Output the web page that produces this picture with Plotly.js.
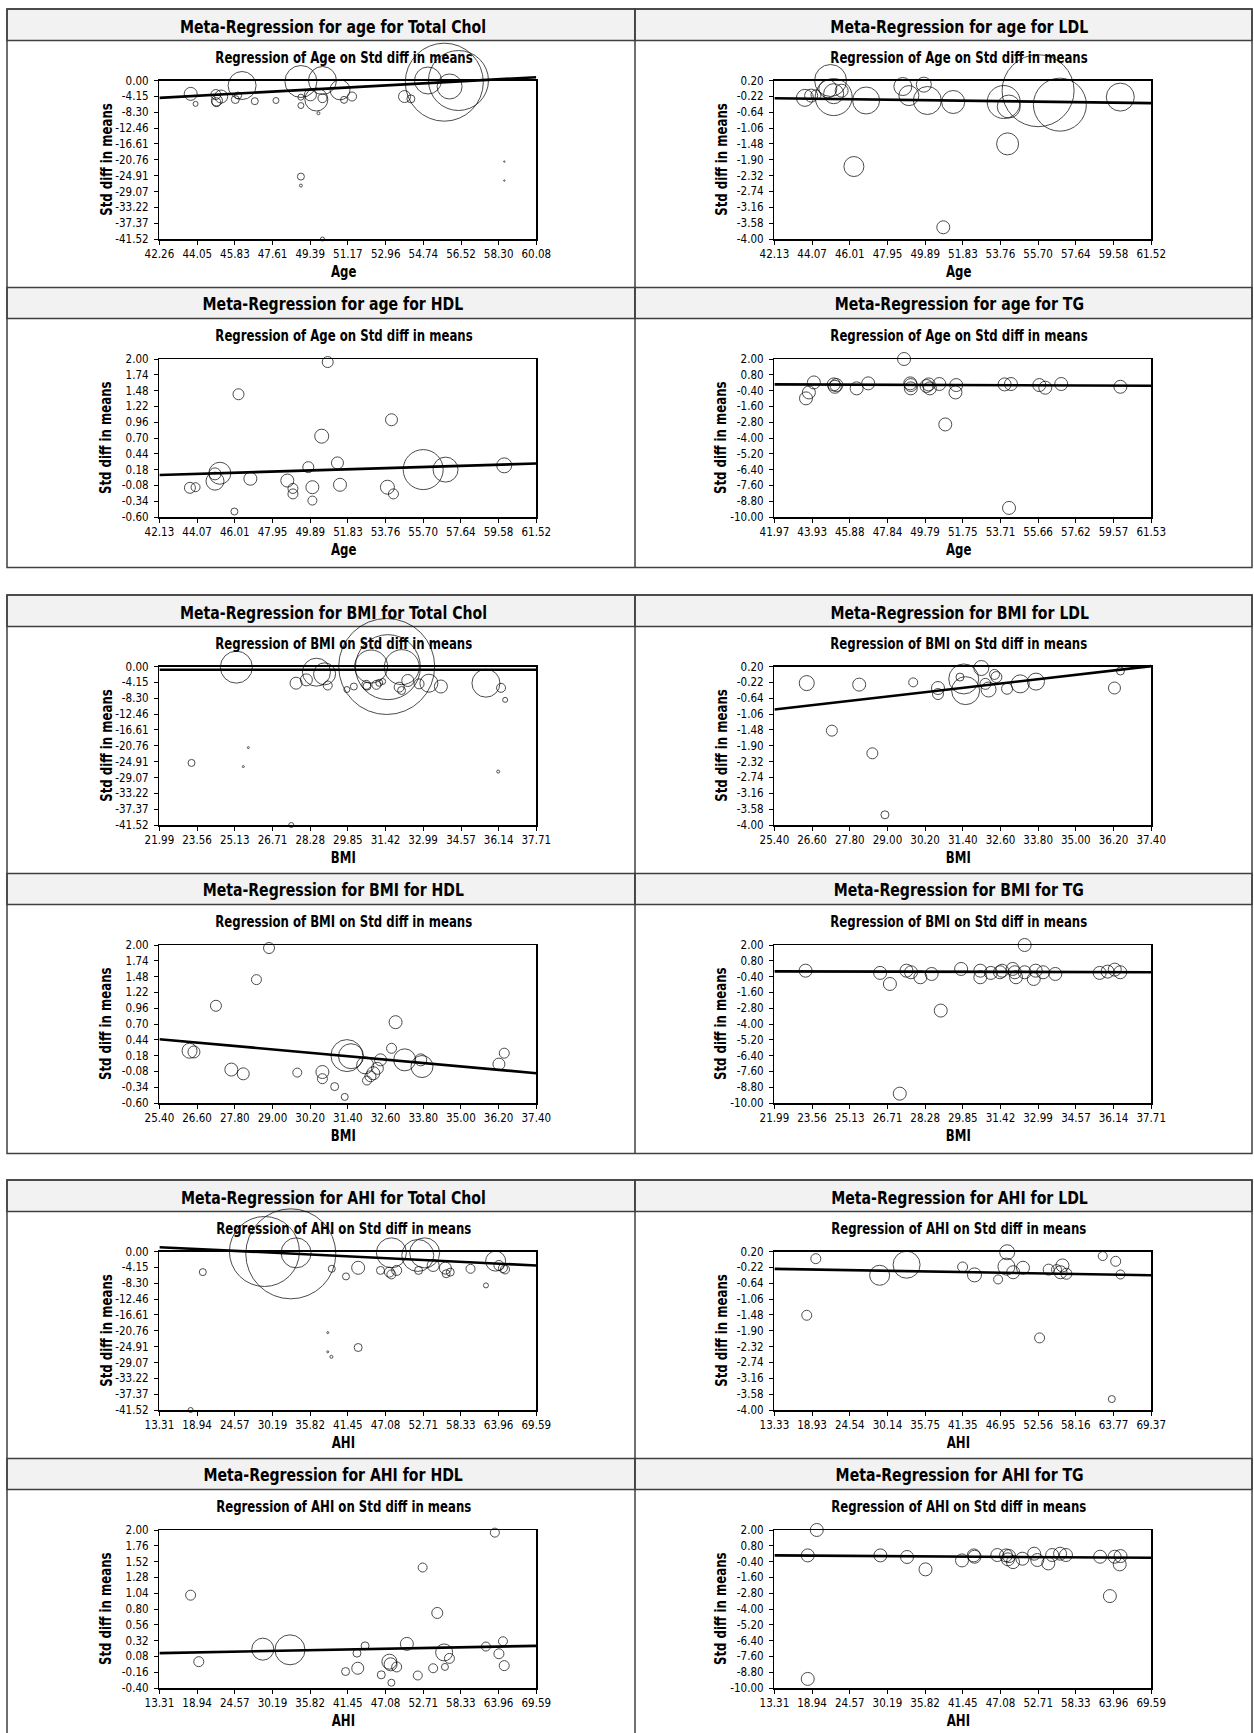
<!DOCTYPE html>
<html><head><meta charset="utf-8">
<script src="https://cdn.plot.ly/plotly-3.0.1.min.js"></script>
<style>
html,body{margin:0;padding:0;background:#fff;}
#chart{width:1254px;height:1733px;}
#chart text.annotation-text{transform-box:fill-box;transform-origin:center;transform:scaleX(0.87);}
</style>
</head><body><div id="chart"></div>
<script>
// ---------------- DATA ----------------
// tick labels
const ageTCxTicks = ['42.26','44.05','45.83','47.61','49.39','51.17','52.96','54.74','56.52','58.30','60.08'];
const ageLHxTicks = ['42.13','44.07','46.01','47.95','49.89','51.83','53.76','55.70','57.64','59.58','61.52'];
const ageTGxTicks = ['41.97','43.93','45.88','47.84','49.79','51.75','53.71','55.66','57.62','59.57','61.53'];
const bmiTxTicks  = ['21.99','23.56','25.13','26.71','28.28','29.85','31.42','32.99','34.57','36.14','37.71'];
const bmiLHxTicks = ['25.40','26.60','27.80','29.00','30.20','31.40','32.60','33.80','35.00','36.20','37.40'];
const ahixTicks   = ['13.31','18.94','24.57','30.19','35.82','41.45','47.08','52.71','58.33','63.96','69.59'];
const ahiLxTicks  = ['13.33','18.93','24.54','30.14','35.75','41.35','46.95','52.56','58.16','63.77','69.37'];
const tcYTicks  = ['0.00','-4.15','-8.30','-12.46','-16.61','-20.76','-24.91','-29.07','-33.22','-37.37','-41.52'];
const ldlYTicks = ['0.20','-0.22','-0.64','-1.06','-1.48','-1.90','-2.32','-2.74','-3.16','-3.58','-4.00'];
const hdlYTicks = ['2.00','1.74','1.48','1.22','0.96','0.70','0.44','0.18','-0.08','-0.34','-0.60'];
const hdlAhiYTicks = ['2.00','1.76','1.52','1.28','1.04','0.80','0.56','0.32','0.08','-0.16','-0.40'];
const tgYTicks  = ['2.00','0.80','-0.40','-1.60','-2.80','-4.00','-5.20','-6.40','-7.60','-8.80','-10.00'];

// Age - Total Chol
const ageTC_x = [43.74,43.97,44.93,44.98,44.95,45.18,45.85,45.98,46.17,46.77,47.77,48.95,48.95,48.95,48.95,48.95,49.78,49.68,49.97,49.97,49.97,50.80,50.99,51.37,53.85,54.15,54.96,55.73,55.98,56.40,58.57,58.57,49.40];
const ageTC_y = [-3.50,-6.12,-3.67,-5.24,-5.68,-4.20,-4.98,-3.93,-1.31,-5.42,-5.24,-0.26,-4.37,-6.56,-25.17,-27.53,-8.57,-4.98,0.00,-4.63,-41.52,-2.45,-5.07,-4.20,-4.20,-4.81,0.00,-0.44,-1.57,0.00,-21.24,-26.22,-3.76];
const ageTC_w = [16.9,2.5,10,12.1,8.1,16.9,6.4,4.9,78.4,4.9,3.6,102.4,3.6,3.6,4.9,0.9,0.9,52.9,78.4,8.1,1.6,40,4.9,8.1,14.4,6.4,72.9,608.4,62.5,360,0.2,0.2,14.4];
const ageTC_line = [-4.54, 0.87];

// Age - LDL
const ageLDL_x = [43.70,44.02,44.27,45.02,44.88,45.18,45.18,45.59,46.85,46.22,48.74,49.05,49.82,50.00,51.33,50.82,53.93,54.19,54.13,55.70,56.82,59.93];
const ageLDL_y = [-0.26,-0.20,-0.18,0.20,-0.02,-0.15,-0.24,-0.07,-0.33,-2.08,0.04,-0.20,0.09,-0.33,-0.37,-3.69,-0.37,-0.49,-1.48,-0.07,-0.44,-0.24];
const ageLDL_w = [28.9,16.9,10,102.4,32.4,40,136.9,16.9,72.9,40,32.4,40,22.5,78.4,52.9,16.9,108.9,52.9,48.4,518.4,280.9,78.4];
const ageLDL_line = [-0.27, -0.40];

// Age - HDL
const ageHDL_x = [43.70,43.99,44.99,45.24,44.99,46.20,45.99,46.81,48.71,49.00,49.00,49.79,50.00,50.00,50.48,50.79,51.29,51.42,53.86,54.17,54.07,55.70,56.85,59.87];
const ageHDL_y = [-0.12,-0.11,0.11,0.12,-0.01,1.42,-0.51,0.03,0.00,-0.13,-0.22,0.22,-0.11,-0.33,0.73,1.95,0.29,-0.07,-0.11,-0.22,1.00,0.18,0.18,0.25];
const ageHDL_w = [12.1,8.1,14.4,48.4,32.4,12.1,4.9,16.9,16.9,10,10,12.1,16.9,8.1,19.6,12.1,14.4,16.9,19.6,10,14.4,160,62.5,22.5];
const ageHDL_line = [0.09, 0.28];

// Age - TG
const ageTG_x = [48.70,43.61,43.76,44.02,45.05,45.11,45.19,46.24,46.84,49.02,49.05,49.05,49.98,50.04,49.87,50.53,50.84,51.41,51.37,53.92,54.25,54.15,55.72,56.03,56.86,59.93];
const ageTG_y = [2.00,-0.99,-0.54,0.22,0.07,-0.11,0.02,-0.23,0.15,0.15,-0.23,0.02,0.07,-0.23,-0.05,0.10,-2.97,0.02,-0.54,0.07,0.10,-9.31,0.02,-0.18,0.10,-0.11];
const ageTG_w = [16.9,16.9,16.9,16.9,16.9,16.9,16.9,16.9,16.9,16.9,16.9,16.9,16.9,16.9,16.9,16.9,16.9,16.9,16.9,16.9,16.9,16.9,16.9,16.9,16.9,16.9];
const ageTG_line = [0.07, -0.03];

// BMI - Total Chol
const bmiTC_x = [25.20,23.33,25.49,25.70,27.49,27.69,28.12,28.54,28.88,29.01,29.81,30.10,30.62,30.65,31.04,31.16,31.30,31.47,30.82,31.52,32.10,31.99,32.09,32.35,32.82,33.23,33.73,35.61,36.24,36.41,36.12];
const bmiTC_y = [-0.17,-25.26,-26.22,-21.24,-41.52,-4.37,-3.50,-1.49,-1.92,-4.98,-6.03,-5.24,-4.81,-5.16,-4.81,-4.28,-3.93,0.00,0.00,-0.17,-0.17,-5.42,-6.29,-3.67,-4.55,-4.37,-5.24,-4.37,-5.59,-8.74,-27.53];
const bmiTC_w = [102.4,4.9,0.4,0.4,2.5,14.4,14.4,78.4,48.4,8.1,3.6,4.9,8.1,6.4,8.1,4.9,3.6,921.6,108.9,422.5,122.5,10,6.4,14.4,10,32.4,16.9,78.4,8.1,2.5,0.9];
const bmiTC_line = [-0.87, -0.87];

// BMI - LDL
const bmiLDL_x = [26.43,28.10,29.82,27.23,28.52,28.92,30.61,30.61,31.31,31.43,31.49,31.99,32.12,32.22,32.41,32.47,32.81,33.23,33.73,36.23,36.42];
const bmiLDL_y = [-0.24,-0.28,-0.22,-1.50,-2.10,-3.73,-0.37,-0.53,-0.08,-0.13,-0.44,0.16,-0.26,-0.41,-0.01,-0.08,-0.39,-0.26,-0.20,-0.37,0.08];
const bmiLDL_w = [22.5,16.9,8.1,12.1,12.1,6.4,16.9,12.1,6.4,90,78.4,22.5,12.1,22.5,10,12.1,12.1,32.4,28.9,14.4,6.4];
const bmiLDL_line = [-0.94, 0.21];

// BMI - HDL
const bmiHDL_x = [28.89,28.49,27.20,26.36,26.50,27.69,28.07,29.79,30.59,30.59,30.98,31.30,31.37,31.50,31.95,32.01,32.12,32.21,32.34,32.44,32.79,32.92,33.21,33.72,33.76,36.21,36.38];
const bmiHDL_y = [1.95,1.43,1.00,0.26,0.24,-0.05,-0.12,-0.10,-0.09,-0.20,-0.33,-0.50,0.18,0.17,0.02,-0.23,-0.16,-0.11,-0.03,0.11,0.30,0.73,0.11,0.11,0.00,0.04,0.22];
const bmiHDL_w = [12.1,10,12.1,22.5,14.4,16.9,14.4,8.1,16.9,10,6.4,4.9,102.4,62.5,28.9,8.1,12.1,16.9,14.4,14.4,10,16.9,48.4,14.4,48.4,14.4,10];
const bmiHDL_line = [0.45, -0.11];

// BMI - TG
const bmiTG_x = [23.29,26.40,26.81,27.22,27.50,27.69,28.08,28.55,28.93,29.78,30.58,30.58,31.02,31.40,31.49,31.93,32.02,32.07,32.43,32.43,32.81,32.89,33.20,33.71,35.56,35.89,36.19,36.42];
const bmiTG_y = [0.05,-0.12,-0.96,-9.29,0.05,-0.07,-0.45,-0.20,-2.98,0.18,0.05,-0.45,-0.12,-0.07,0.05,0.18,-0.07,-0.45,2.00,-0.07,-0.58,0.05,-0.07,-0.20,-0.12,-0.02,0.13,-0.07];
const bmiTG_w = [16.9,16.9,16.9,16.9,16.9,16.9,16.9,16.9,16.9,16.9,16.9,16.9,16.9,16.9,16.9,16.9,16.9,16.9,16.9,16.9,16.9,16.9,16.9,16.9,16.9,16.9,16.9,16.9];
const bmiTG_line = [0.00, -0.07];

// AHI - Total Chol
const ahiTC_x = [17.97,19.79,28.99,32.93,33.72,38.45,38.45,38.99,39.05,41.17,42.99,42.99,46.32,47.65,47.95,48.74,47.95,52.01,51.89,52.92,54.19,56.01,56.13,56.74,59.77,62.07,63.52,64.01,64.61,64.92];
const ahiTC_y = [-41.52,-5.40,0.00,-0.61,-0.35,-21.24,-26.28,-27.59,-4.53,-6.53,-4.26,-25.15,-4.96,-5.40,-6.01,-4.96,-0.35,-4.96,-1.04,-0.35,-3.66,-4.35,-5.83,-5.40,-4.53,-8.88,-2.52,-3.66,-4.35,-4.70];
const ahiTC_w = [2.5,4.9,490,810,90,0.4,0.4,0.9,4.9,4.9,16.9,6.4,6.4,10,8.1,10,90,6.4,102.4,90,14.4,14.4,6.4,6.4,8.1,2.5,40,10,8.1,8.1];
const ahiTC_line = [1.13, -3.66];

// AHI - LDL
const ahiLDL_x = [18.14,19.49,28.98,32.99,41.32,43.09,46.60,47.95,47.84,48.84,50.30,52.77,54.12,55.29,56.17,55.88,56.76,62.16,64.09,64.80,63.51];
const ahiLDL_y = [-1.49,0.01,-0.43,-0.15,-0.21,-0.42,-0.54,0.18,-0.20,-0.35,-0.23,-2.09,-0.28,-0.28,-0.17,-0.35,-0.39,0.08,-0.06,-0.41,-3.71];
const ahiLDL_w = [10,10,40,72.9,10,19.6,8.1,22.5,28.9,16.9,16.9,10,12.1,10,16.9,16.9,12.1,8.1,10,8.1,4.9];
const ahiLDL_line = [-0.26, -0.43];

// AHI - HDL
const ahiHDL_x = [17.97,19.19,28.75,32.81,41.11,42.81,42.93,44.02,46.44,47.65,47.83,47.95,48.74,50.26,51.89,52.62,54.19,54.80,55.83,55.95,56.62,62.07,63.40,64.01,64.61,64.80];
const ahiHDL_y = [1.01,0.00,0.19,0.18,-0.15,0.13,-0.10,0.24,-0.20,0.00,-0.04,-0.32,-0.08,0.27,-0.21,1.43,-0.10,0.74,0.14,-0.08,0.05,0.23,1.96,0.12,0.31,-0.06];
const ahiHDL_w = [10,10,48.4,90,6.4,6.4,14.4,6.4,6.4,22.5,16.9,4.9,10,16.9,8.1,8.1,8.1,12.1,28.9,4.9,10,8.1,8.1,10,8.1,10];
const ahiHDL_line = [0.13, 0.24];

// AHI - TG
const ahiTG_x = [19.64,18.29,18.29,29.14,33.12,35.88,41.33,43.09,43.21,46.61,47.90,48.19,48.95,48.36,50.35,52.11,52.58,54.22,54.80,55.98,56.86,61.96,63.42,64.13,64.89,65.01];
const ahiTG_y = [2.00,0.07,-9.31,0.07,-0.05,-0.99,-0.31,0.07,-0.03,0.10,0.07,-0.23,-0.44,0.02,-0.18,0.20,-0.28,-0.54,0.10,0.20,0.10,-0.03,-3.02,-0.03,-0.61,0.02];
const ahiTG_w = [16.9,16.9,16.9,16.9,16.9,16.9,16.9,16.9,16.9,16.9,16.9,16.9,16.9,16.9,16.9,16.9,16.9,16.9,16.9,16.9,16.9,16.9,16.9,16.9,16.9,16.9];
const ahiTG_line = [0.07, -0.11];

const panelTitles = [
  'Meta-Regression for age for Total Chol','Meta-Regression for age for LDL','Meta-Regression for age for HDL','Meta-Regression for age for TG',
  'Meta-Regression for BMI for Total Chol','Meta-Regression for BMI for LDL','Meta-Regression for BMI for HDL','Meta-Regression for BMI for TG',
  'Meta-Regression for AHI for Total Chol','Meta-Regression for AHI for LDL','Meta-Regression for AHI for HDL','Meta-Regression for AHI for TG'
];
const covariates = ['Age','BMI','AHI'];
const yAxisLabel = 'Std diff in means';

// ---------------- BUILD ----------------
const panels = [
  {x:ageTC_x, y:ageTC_y, w:ageTC_w, line:ageTC_line, xt:ageTCxTicks, yt:tcYTicks},
  {x:ageLDL_x, y:ageLDL_y, w:ageLDL_w, line:ageLDL_line, xt:ageLHxTicks, yt:ldlYTicks},
  {x:ageHDL_x, y:ageHDL_y, w:ageHDL_w, line:ageHDL_line, xt:ageLHxTicks, yt:hdlYTicks},
  {x:ageTG_x, y:ageTG_y, w:ageTG_w, line:ageTG_line, xt:ageTGxTicks, yt:tgYTicks},
  {x:bmiTC_x, y:bmiTC_y, w:bmiTC_w, line:bmiTC_line, xt:bmiTxTicks, yt:tcYTicks},
  {x:bmiLDL_x, y:bmiLDL_y, w:bmiLDL_w, line:bmiLDL_line, xt:bmiLHxTicks, yt:ldlYTicks},
  {x:bmiHDL_x, y:bmiHDL_y, w:bmiHDL_w, line:bmiHDL_line, xt:bmiLHxTicks, yt:hdlYTicks},
  {x:bmiTG_x, y:bmiTG_y, w:bmiTG_w, line:bmiTG_line, xt:bmiTxTicks, yt:tgYTicks},
  {x:ahiTC_x, y:ahiTC_y, w:ahiTC_w, line:ahiTC_line, xt:ahixTicks, yt:tcYTicks},
  {x:ahiLDL_x, y:ahiLDL_y, w:ahiLDL_w, line:ahiLDL_line, xt:ahiLxTicks, yt:ldlYTicks},
  {x:ahiHDL_x, y:ahiHDL_y, w:ahiHDL_w, line:ahiHDL_line, xt:ahixTicks, yt:hdlAhiYTicks},
  {x:ahiTG_x, y:ahiTG_y, w:ahiTG_w, line:ahiTG_line, xt:ahixTicks, yt:tgYTicks}
];

const FONT = "'Liberation Sans Narrow','Arial Narrow','DejaVu Sans Condensed',sans-serif";
const W = 1254, H = 1733;
const blockTops = [9, 595, 1180];
const colPlotX = [[159.4, 536.3], [774.4, 1151.2]];
const colTitleX = [333, 959];
const colEdges = [[7, 635], [635, 1252]];
const rowPlotY = [[71.5, 230], [350, 508]];
const rowHeader = [[0, 31.5], [278.5, 309.5]];
const rowTitleY = [17.7, 294];
const rowSubY = [49.3, 327];
const BLOCK_H = 558.5;

const pxX = v => v / W;
const pxY = v => 1 - v / H;
const axName = (a, k) => a + 'axis' + (k === 1 ? '' : k);
const axRef = (a, k) => a + (k === 1 ? '' : k);

const data = [];
const annotations = [];
const shapes = [];
const layout = {
  width: W, height: H,
  margin: {l:0, r:0, t:0, b:0},
  paper_bgcolor: '#ffffff',
  plot_bgcolor: 'rgba(0,0,0,0)',
  showlegend: false,
  font: {family: FONT, color: '#000'}
};

const common = {
  showline: true, mirror: true, linecolor: '#000', linewidth: 1.5,
  ticks: 'outside', ticklen: 4, tickwidth: 1, tickcolor: '#000',
  showgrid: false, zeroline: false, fixedrange: true,
  tickfont: {family: FONT, size: 11.5, color: '#000'}
};

// block frames & headers
blockTops.forEach(T => {
  const bottom = Math.min(T + BLOCK_H, H + 5);
  [0, 1].forEach(r => {
    [0, 1].forEach(c => {
      shapes.push({type:'rect', xref:'paper', yref:'paper', layer:'below',
        x0: pxX(colEdges[c][0]), x1: pxX(colEdges[c][1]),
        y0: pxY(T + rowHeader[r][1]), y1: pxY(T + rowHeader[r][0]),
        fillcolor:'#f2f2f2', line:{color:'#404040', width:1.5}});
    });
  });
  shapes.push({type:'rect', xref:'paper', yref:'paper', layer:'below',
    x0: pxX(7), x1: pxX(1252), y0: pxY(bottom), y1: pxY(T),
    line:{color:'#404040', width:1.5}});
  shapes.push({type:'line', xref:'paper', yref:'paper', layer:'below',
    x0: pxX(635), x1: pxX(635), y0: pxY(bottom), y1: pxY(T),
    line:{color:'#404040', width:1.5}});
});

panels.forEach((p, i) => {
  const b = Math.floor(i / 4), r = Math.floor((i % 4) / 2), c = i % 2;
  const T = blockTops[b];
  const n = i + 1, m = i + 13;
  const [x0, x1] = colPlotX[c];
  const yTop = T + rowPlotY[r][0], yBot = T + rowPlotY[r][1];
  const xv = p.xt.map(Number), yv = p.yt.map(Number);
  const xmin = xv[0], xmax = xv[xv.length - 1];
  const ymax = yv[0], ymin = yv[yv.length - 1];

  layout[axName('x', n)] = Object.assign({}, common, {
    domain: [pxX(x0), pxX(x1)], range: [xmin, xmax],
    tickmode: 'array', tickvals: xv, ticktext: p.xt, anchor: axRef('y', n)});
  layout[axName('y', n)] = Object.assign({}, common, {
    domain: [pxY(yBot), pxY(yTop)], range: [ymin, ymax],
    tickmode: 'array', tickvals: yv, ticktext: p.yt, anchor: axRef('x', n), ticklabelstandoff: 3});

  // hidden companion axes so the regression line may run slightly past the frame
  const E = 20, u = (ymax - ymin) / (yBot - yTop);
  layout[axName('x', m)] = {domain: [pxX(x0), pxX(x1)], range: [xmin, xmax], visible: false, fixedrange: true, anchor: axRef('y', m)};
  layout[axName('y', m)] = {domain: [pxY(yBot + E), pxY(yTop - E)], range: [ymin - E * u, ymax + E * u], visible: false, fixedrange: true, anchor: axRef('x', m)};

  data.push({type:'scatter', mode:'markers', x:p.x, y:p.y,
    xaxis: axRef('x', n), yaxis: axRef('y', n), cliponaxis: false, hoverinfo: 'skip',
    marker: {size: p.w, sizemode: 'area', sizeref: 0.2, color: 'rgba(0,0,0,0)',
             line: {color: '#000', width: 1}}});
  data.push({type:'scatter', mode:'lines', x:[xmin, xmax], y:p.line,
    xaxis: axRef('x', m), yaxis: axRef('y', m), hoverinfo: 'skip',
    line: {color: '#000', width: 2.6}});

  const cov = covariates[b];
  const cx = (x0 + x1) / 2 - 4;
  annotations.push({xref:'paper', yref:'paper', x: pxX(colTitleX[c]), y: pxY(T + rowTitleY[r]),
    xanchor:'center', yanchor:'middle', showarrow:false,
    text: '<b>' + panelTitles[i] + '</b>', font:{family:FONT, size:18, color:'#000'}});
  annotations.push({xref:'paper', yref:'paper', x: pxX(cx), y: pxY(T + rowSubY[r]),
    xanchor:'center', yanchor:'middle', showarrow:false,
    text: '<b>Regression of ' + cov + ' on Std diff in means</b>', font:{family:FONT, size:15, color:'#000'}});
  annotations.push({xref:'paper', yref:'paper', x: pxX(cx), y: pxY(yBot + 33),
    xanchor:'center', yanchor:'middle', showarrow:false,
    text: '<b>' + cov + '</b>', font:{family:FONT, size:15, color:'#000'}});
  annotations.push({xref:'paper', yref:'paper', x: pxX(x0 - 53), y: pxY((yTop + yBot) / 2),
    xanchor:'center', yanchor:'middle', showarrow:false, textangle:-90,
    text: '<b>' + yAxisLabel + '</b>', font:{family:FONT, size:15, color:'#000'}});
});

layout.annotations = annotations;
layout.shapes = shapes;

Plotly.newPlot('chart', data, layout, {staticPlot: true, displayModeBar: false});
</script>
</body></html>
